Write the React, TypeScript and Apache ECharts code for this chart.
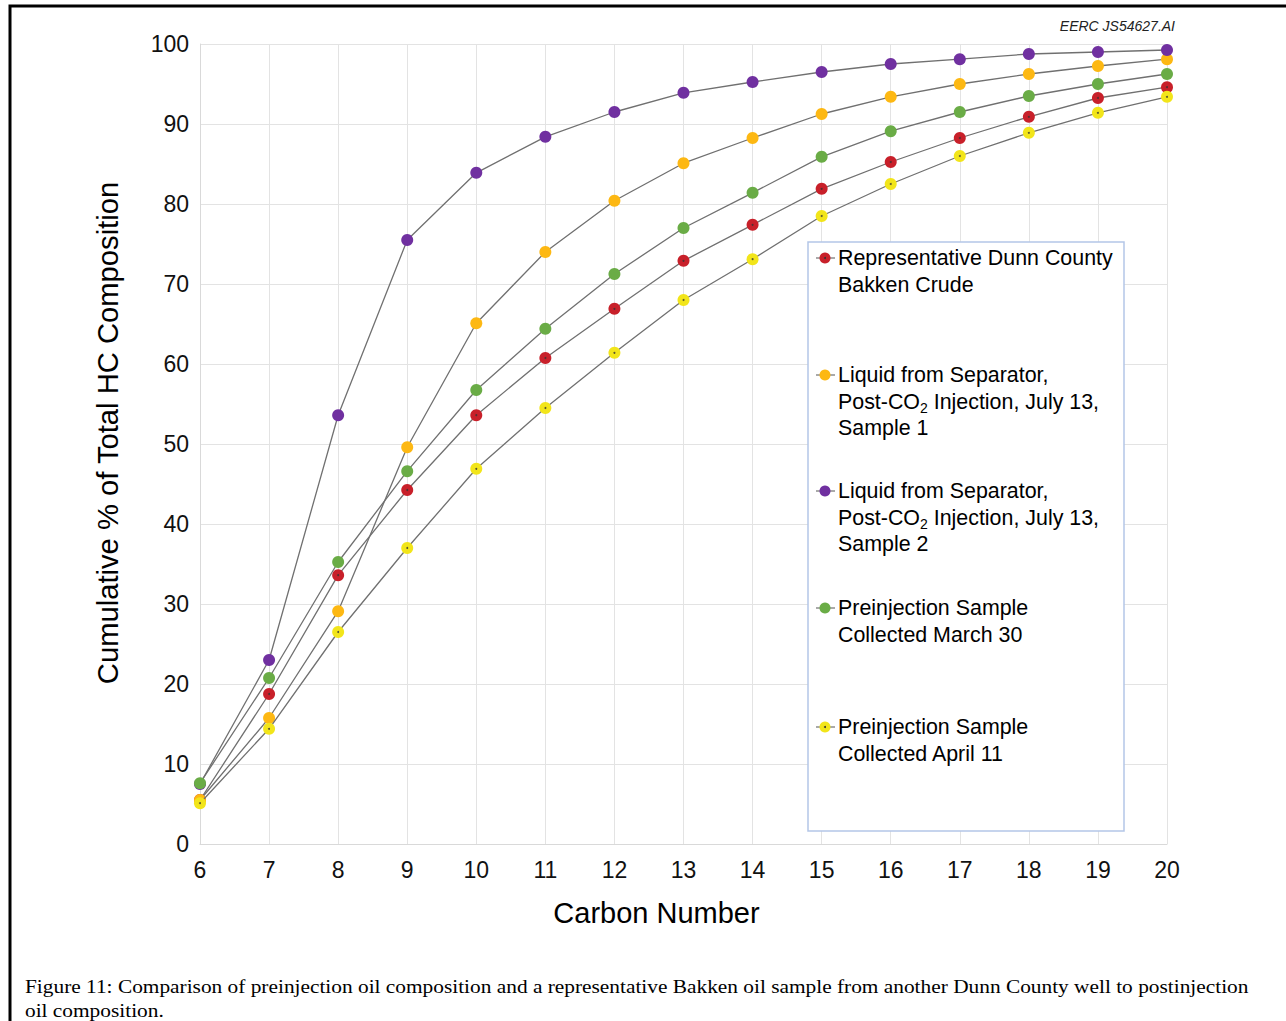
import React, { useEffect, useRef } from "react";
import * as echarts from "echarts";

const carbonNumbers = [6, 7, 8, 9, 10, 11, 12, 13, 14, 15, 16, 17, 18, 19, 20];

const dunnCounty = [5.5, 18.75, 33.6, 44.25, 53.6, 60.75, 66.9, 72.9, 77.4, 81.9, 85.25, 88.25, 90.9, 93.25, 94.6];
const sample1 = [5.5, 15.75, 29.1, 49.6, 65.1, 74.0, 80.4, 85.1, 88.25, 91.25, 93.4, 95.0, 96.25, 97.25, 98.1];
const sample2 = [7.5, 23.0, 53.6, 75.5, 83.9, 88.4, 91.5, 93.9, 95.25, 96.5, 97.5, 98.1, 98.75, 99.0, 99.25];
const march30 = [7.6, 20.75, 35.25, 46.6, 56.75, 64.4, 71.25, 77.0, 81.4, 85.9, 89.1, 91.5, 93.5, 95.0, 96.25];
const april11 = [5.1, 14.4, 26.5, 37.0, 46.9, 54.5, 61.4, 68.0, 73.1, 78.5, 82.5, 86.0, 88.9, 91.4, 93.4];

const yTicks = [0, 10, 20, 30, 40, 50, 60, 70, 80, 90, 100];

const seriesNames = [
  "Representative Dunn County Bakken Crude",
  "Liquid from Separator, Post-CO2 Injection, July 13, Sample 1",
  "Liquid from Separator, Post-CO2 Injection, July 13, Sample 2",
  "Preinjection Sample Collected March 30",
  "Preinjection Sample Collected April 11",
];
const seriesData = [dunnCounty, sample1, sample2, march30, april11];
const seriesColors = ["#c8202a", "#fdb813", "#7030a0", "#6aac46", "#f2e51a"];
const centerDot = [true, false, false, false, true];

// legend text lines (rich text markup)
const legendLines = [
  ["{n|Representative Dunn County}", "{n|Bakken Crude}"],
  ["{n|Liquid from Separator,}", "{n|Post-CO}{s|2}{n| Injection, July 13,}", "{n|Sample 1}"],
  ["{n|Liquid from Separator,}", "{n|Post-CO}{s|2}{n| Injection, July 13,}", "{n|Sample 2}"],
  ["{n|Preinjection Sample}", "{n|Collected March 30}"],
  ["{n|Preinjection Sample}", "{n|Collected April 11}"],
];
const legendTops = [258, 375, 491, 608, 727];

const captionLines = [
  "Figure 11: Comparison of preinjection oil composition and a representative Bakken oil sample from another Dunn County well to postinjection",
  "oil composition.",
];

const FONT = "'Liberation Sans', Arial, Helvetica, sans-serif";
const SERIF = "'Liberation Serif', 'Times New Roman', serif";

export default function App() {
  const ref = useRef<HTMLDivElement>(null);
  useEffect(() => {
    document.body.style.margin = "0";
    if (!ref.current) return;
    const chart = echarts.init(ref.current, undefined, { renderer: "svg" });

    const graphics: any[] = [];
    // figure frame (top and left rules)
    graphics.push({
      type: "polyline",
      shape: { points: [[10, 1021], [10, 6], [1286, 6]] },
      style: { stroke: "#000", lineWidth: 3, fill: null },
      silent: true,
    });
    graphics.push({
      type: "text",
      x: 1175,
      y: 26,
      style: {
        text: "EERC JS54627.AI",
        font: "italic 14px " + FONT,
        fill: "#222",
        align: "right",
        verticalAlign: "middle",
      },
    });
    // legend box
    graphics.push({
      type: "rect",
      shape: { x: 808, y: 242, width: 316, height: 589 },
      style: { fill: "#fff", stroke: "#b4c6e7", lineWidth: 1.5 },
      z: 10,
    });
    legendLines.forEach((lines, i) => {
      const y0 = legendTops[i];
      graphics.push({
        type: "line",
        shape: { x1: 816, y1: y0, x2: 835, y2: y0 },
        style: { stroke: "#707070", lineWidth: 1.2 },
        z: 11,
      });
      graphics.push({
        type: "circle",
        shape: { cx: 825, cy: y0, r: 5.5 },
        style: { fill: seriesColors[i] },
        z: 12,
      });
      if (centerDot[i]) {
        graphics.push({
          type: "circle",
          shape: { cx: 825, cy: y0, r: 1 },
          style: { fill: "#333" },
          z: 13,
        });
      }
      lines.forEach((ln, j) => {
        graphics.push({
          type: "text",
          x: 838,
          y: y0 + j * 26.5,
          z: 12,
          style: {
            text: ln,
            align: "left",
            verticalAlign: "middle",
            rich: {
              n: { fontSize: 21.4, fontFamily: FONT, fill: "#000", color: "#000", verticalAlign: "middle", lineHeight: 26 },
              s: { fontSize: 14, fontFamily: FONT, fill: "#000", color: "#000", verticalAlign: "bottom", lineHeight: 14, padding: [12, 0, 0, 0] },
            },
          },
        });
      });
    });
    captionLines.forEach((t, i) => {
      graphics.push({
        type: "text",
        x: 25,
        y: 986 + i * 24,
        scaleX: 1.124,
        style: {
          text: t,
          font: "19px " + SERIF,
          fill: "#000",
          align: "left",
          verticalAlign: "middle",
        },
      });
    });

    const lineSeries = seriesNames.map((name, i) => ({
      name,
      type: "line",
      data: carbonNumbers.map((c, k) => [c, seriesData[i][k]]),
      symbol: "circle",
      symbolSize: 12,
      showSymbol: true,
      itemStyle: { color: seriesColors[i] },
      lineStyle: { color: "#707070", width: 1.3 },
      z: 2 + i,
    }));
    // small dark centre dots drawn on the red and yellow markers
    const dotSeries = seriesNames
      .map((name, i) => ({ name, i }))
      .filter((d) => centerDot[d.i])
      .map((d) => ({
        name: d.name + " centre",
        type: "scatter",
        data: carbonNumbers.map((c, k) => [c, seriesData[d.i][k]]),
        symbol: "circle",
        symbolSize: 2,
        itemStyle: { color: "#333" },
        silent: true,
        z: 2 + d.i,
        zlevel: 0,
      }));

    chart.setOption({
      animation: false,
      backgroundColor: "#fff",
      grid: { left: 200, right: 119, top: 44, bottom: 177, containLabel: false },
      xAxis: {
        type: "value",
        min: 6,
        max: 20,
        interval: 1,
        name: "Carbon Number",
        nameLocation: "middle",
        nameGap: 54,
        nameTextStyle: { fontSize: 29, fontFamily: FONT, color: "#000", padding: [0, 54, 0, 0] },
        axisLine: { show: true, lineStyle: { color: "#d9d9d9" } },
        axisTick: { show: false },
        axisLabel: { fontSize: 23, fontFamily: FONT, color: "#111", margin: 14 },
        splitLine: { show: true, lineStyle: { color: "#e3e3e3", width: 1 } },
      },
      yAxis: {
        type: "value",
        min: yTicks[0],
        max: yTicks[yTicks.length - 1],
        interval: 10,
        name: "Cumulative % of Total HC Composition",
        nameLocation: "middle",
        nameGap: 78,
        nameTextStyle: { fontSize: 29.2, fontFamily: FONT, color: "#000", padding: [0, 0, 0, 22] },
        axisLine: { show: true, lineStyle: { color: "#d9d9d9" } },
        axisTick: { show: false },
        axisLabel: { fontSize: 23, fontFamily: FONT, color: "#111", margin: 11 },
        splitLine: { show: true, lineStyle: { color: "#e3e3e3", width: 1 } },
      },
      series: [...lineSeries, ...dotSeries],
      graphic: graphics,
    });
    return () => chart.dispose();
  }, []);
  return <div ref={ref} style={{ width: 1286, height: 1021 }} />;
}
